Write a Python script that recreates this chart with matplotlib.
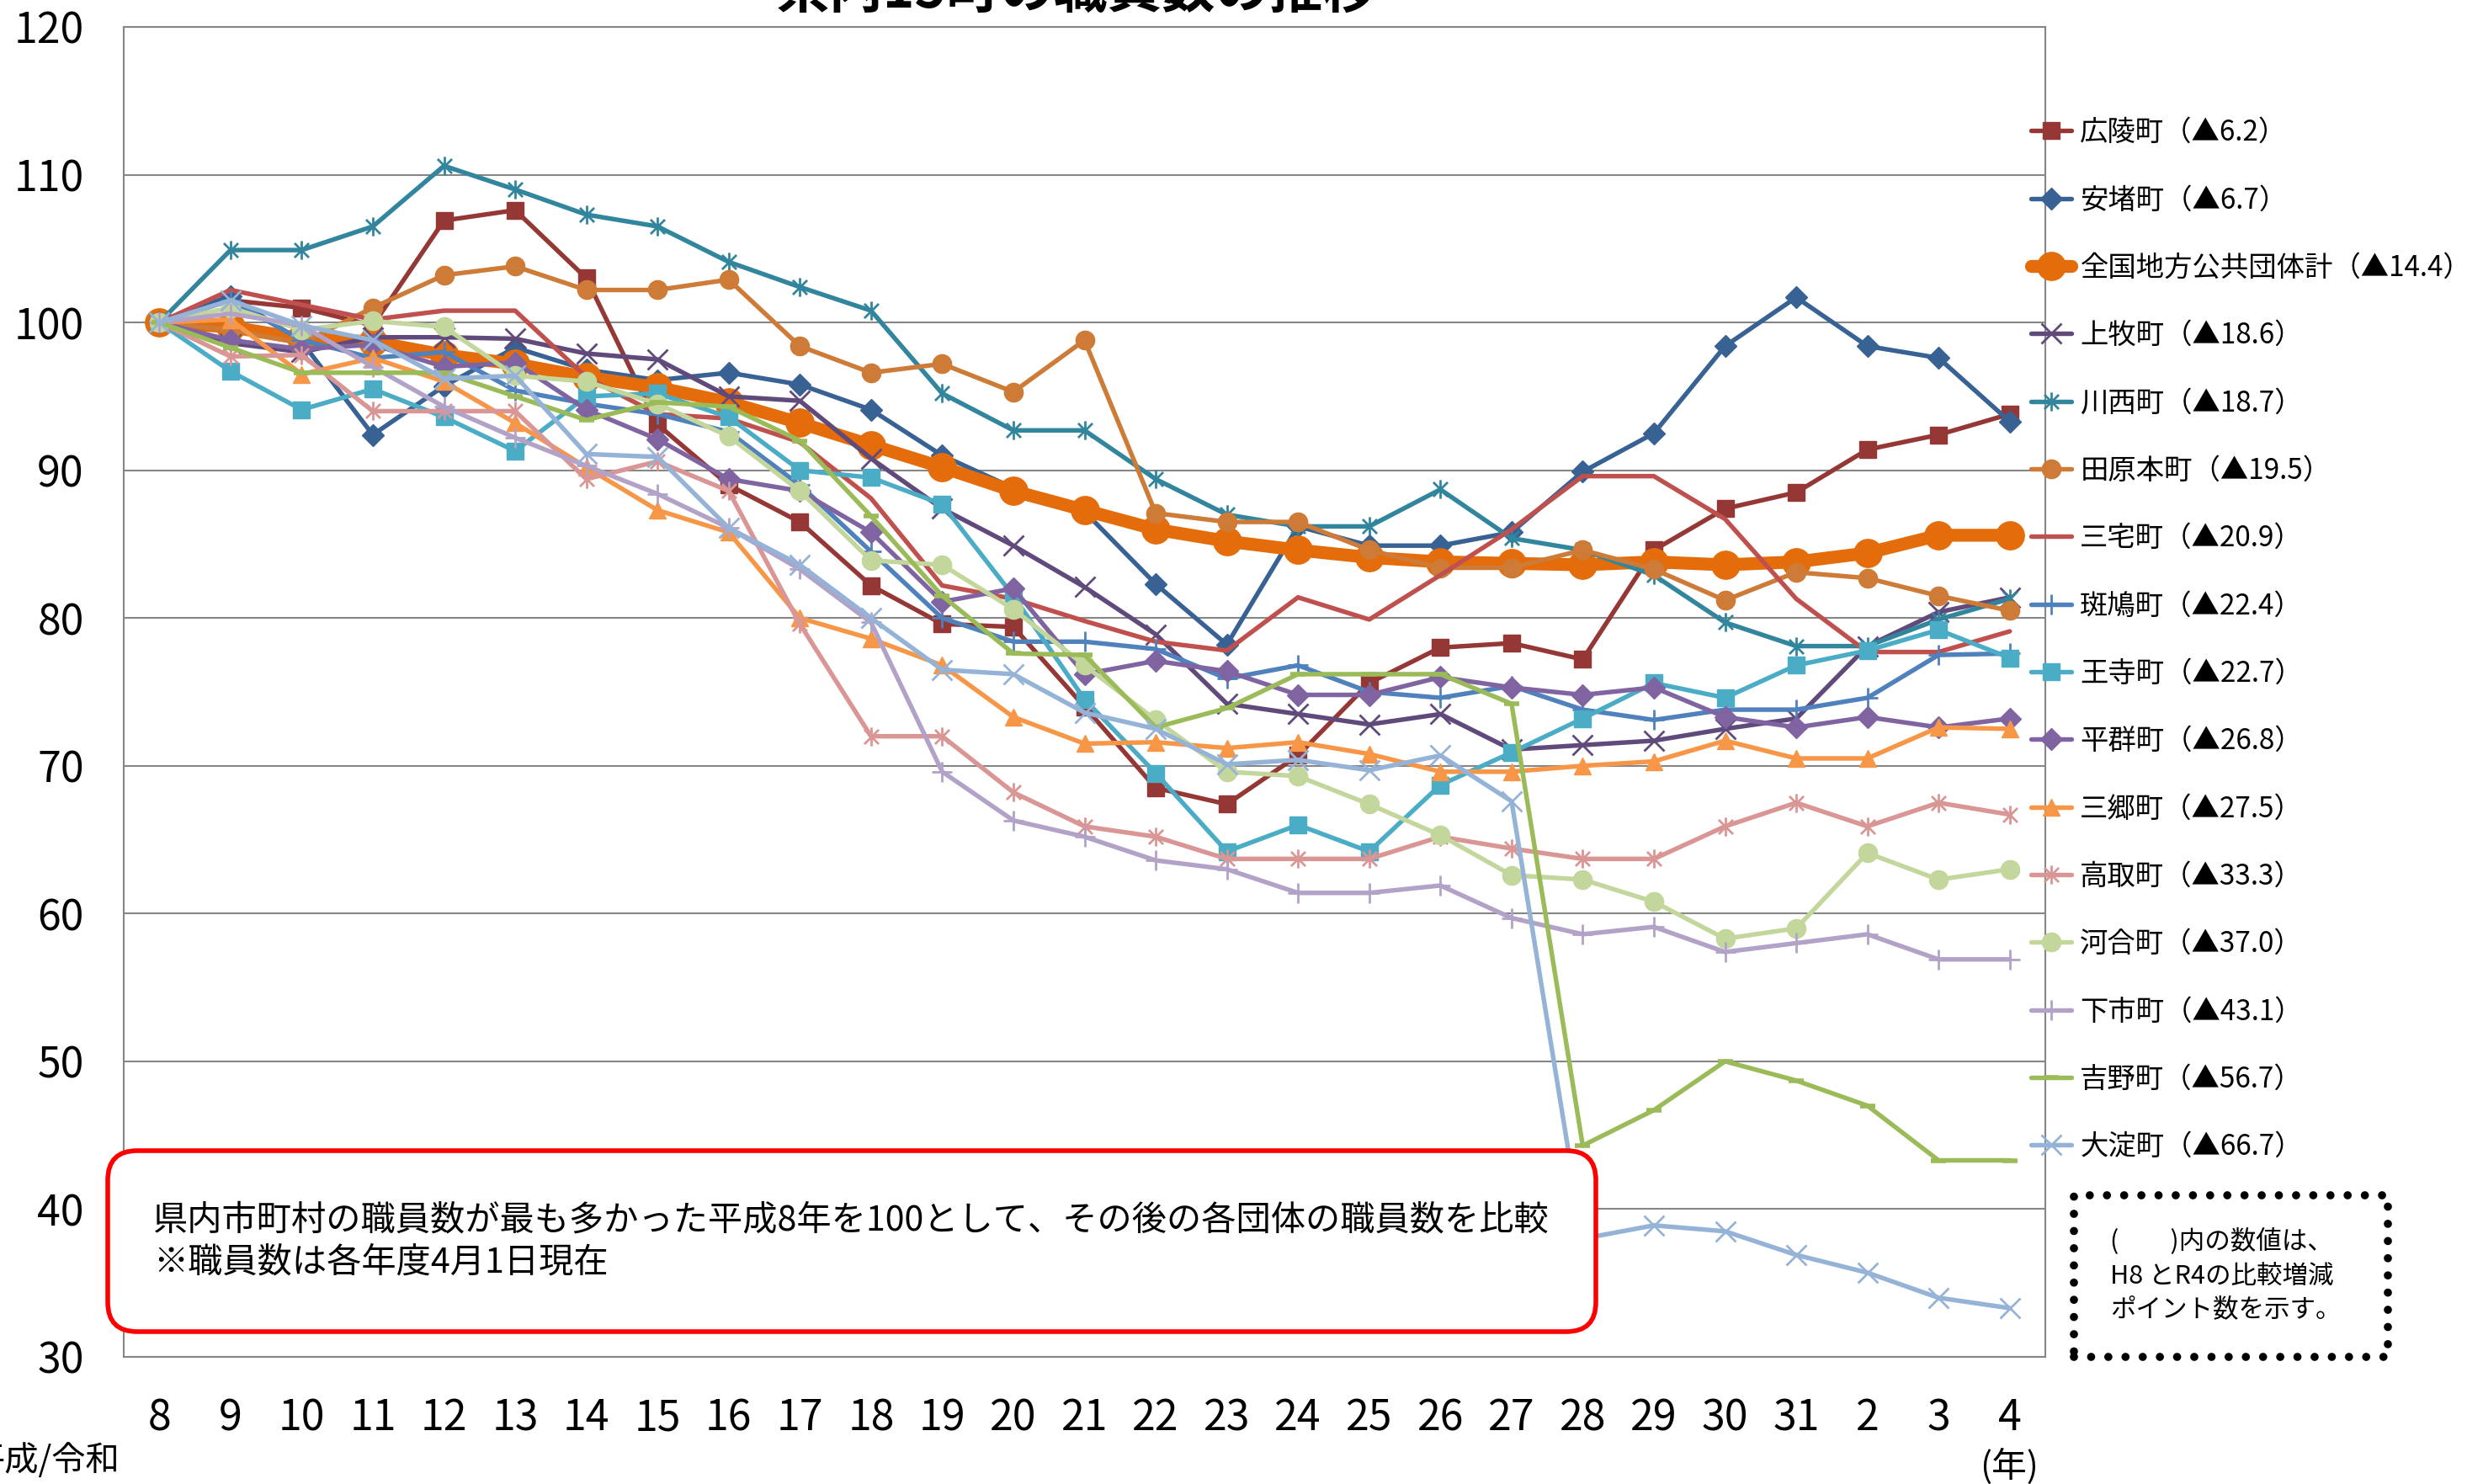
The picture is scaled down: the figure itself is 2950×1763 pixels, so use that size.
import matplotlib
matplotlib.use('Agg')
import matplotlib.pyplot as plt
from matplotlib.path import Path
from matplotlib.patches import FancyBboxPatch, Rectangle
from matplotlib.transforms import IdentityTransform
import numpy as np

plt.rcParams['font.family'] = ['Noto Sans CJK JP', 'DejaVu Sans']

# ---------------- data ----------------
years = ['8', '9', '10', '11', '12', '13', '14', '15', '16', '17', '18', '19', '20',
         '21', '22', '23', '24', '25', '26', '27', '28', '29', '30', '31', '2', '3', '4']

names = ['広陵町', '安堵町', '全国地方公共団体計', '上牧町', '川西町', '田原本町', '三宅町',
         '斑鳩町', '王寺町', '平群町', '三郷町', '高取町', '河合町', '下市町', '吉野町', '大淀町']
changes = ['6.2', '6.7', '14.4', '18.6', '18.7', '19.5', '20.9', '22.4', '22.7', '26.8',
           '27.5', '33.3', '37.0', '43.1', '56.7', '66.7']

koryo = [100, 101.5, 101.0, 99.8, 106.9, 107.6, 103.0, 93.1, 89.0, 86.5, 82.2, 79.6, 79.4,
         74.0, 68.5, 67.4, 70.7, 75.6, 78.0, 78.3, 77.2, 84.6, 87.4, 88.5, 91.4, 92.4, 93.8]
ando = [100, 101.8, 98.7, 92.4, 95.7, 98.3, 96.8, 96.1, 96.6, 95.8, 94.1, 91.0, 88.8,
        87.2, 82.3, 78.2, 86.2, 84.9, 84.9, 85.8, 89.9, 92.5, 98.4, 101.7, 98.4, 97.6, 93.3]
zenkoku = [100, 99.7, 98.9, 98.7, 97.8, 97.2, 96.3, 95.6, 94.6, 93.2, 91.7, 90.2, 88.6,
           87.3, 86.0, 85.2, 84.6, 84.1, 83.8, 83.7, 83.6, 83.8, 83.6, 83.8, 84.4, 85.6, 85.6]
kanmaki = [100, 98.6, 98.0, 99.0, 99.0, 98.9, 97.9, 97.5, 95.0, 94.7, 90.8, 87.4, 84.9,
           82.1, 78.9, 74.2, 73.5, 72.8, 73.5, 71.1, 71.4, 71.7, 72.5, 73.2, 78.1, 80.4, 81.4]
kawanishi = [100, 104.9, 104.9, 106.5, 110.6, 109.0, 107.3, 106.5, 104.1, 102.4, 100.8, 95.2, 92.7,
             92.7, 89.4, 87.0, 86.2, 86.2, 88.7, 85.4, 84.6, 82.9, 79.7, 78.1, 78.1, 79.9, 81.3]
tawaramoto = [100, 99.5, 98.6, 101.0, 103.2, 103.8, 102.2, 102.2, 102.9, 98.4, 96.6, 97.2, 95.3,
              98.8, 87.1, 86.5, 86.5, 84.6, 83.4, 83.4, 84.6, 83.3, 81.2, 83.1, 82.7, 81.5, 80.5]
miyake = [100, 102.2, 101.2, 100.2, 100.8, 100.8, 96.3, 93.8, 93.5, 91.9, 88.1, 82.2, 81.3,
          79.8, 78.4, 77.8, 81.4, 79.9, 82.9, 86.0, 89.6, 89.6, 86.7, 81.3, 77.7, 77.7, 79.1]
ikaruga = [100, 101.5, 98.8, 97.6, 98.0, 95.4, 94.5, 93.8, 92.6, 89.0, 84.5, 80.0, 78.4,
           78.4, 77.9, 75.9, 76.8, 75.0, 74.6, 75.4, 73.8, 73.1, 73.8, 73.8, 74.6, 77.5, 77.6]
oji = [100, 96.7, 94.1, 95.5, 93.6, 91.3, 95.0, 95.2, 93.6, 90.0, 89.5, 87.7, 81.5,
       74.5, 69.5, 64.2, 66.0, 64.2, 68.7, 70.9, 73.2, 75.6, 74.6, 76.8, 77.8, 79.2, 77.3]
heguri = [100, 98.8, 98.2, 98.5, 97.0, 97.3, 94.1, 92.1, 89.4, 88.6, 85.8, 81.1, 82.0,
          76.2, 77.1, 76.4, 74.8, 74.8, 76.0, 75.3, 74.8, 75.3, 73.3, 72.6, 73.3, 72.6, 73.2]
sango = [100, 100.2, 96.5, 97.6, 96.0, 93.2, 90.2, 87.3, 85.8, 80.0, 78.6, 76.8, 73.3,
         71.5, 71.6, 71.2, 71.6, 70.8, 69.6, 69.6, 70.0, 70.3, 71.7, 70.5, 70.5, 72.6, 72.5]
takatori = [100, 97.7, 97.8, 94.0, 94.0, 94.0, 89.4, 90.6, 88.6, 79.6, 72.0, 72.0, 68.2,
            65.9, 65.2, 63.7, 63.7, 63.7, 65.2, 64.4, 63.7, 63.7, 65.9, 67.5, 65.9, 67.5, 66.7]
kawai = [100, 101.0, 99.5, 100.1, 99.7, 96.4, 96.0, 94.5, 92.3, 88.6, 83.9, 83.6, 80.6,
         76.8, 73.1, 69.6, 69.3, 67.4, 65.3, 62.6, 62.3, 60.8, 58.3, 59.0, 64.1, 62.3, 63.0]
shimoichi = [100, 100.6, 99.8, 97.0, 94.3, 92.2, 90.3, 88.4, 86.1, 83.3, 79.7, 69.6, 66.3,
             65.2, 63.6, 63.0, 61.4, 61.4, 61.9, 59.7, 58.6, 59.1, 57.4, 58.0, 58.6, 56.9, 56.9]
yoshino = [100, 98.3, 96.6, 96.6, 96.6, 95.0, 93.4, 94.6, 94.3, 92.0, 86.9, 81.5, 77.6,
           77.5, 72.6, 73.9, 76.2, 76.2, 76.2, 74.2, 44.3, 46.7, 50.0, 48.7, 47.0, 43.3, 43.3]
oyodo = [100, 101.5, 99.8, 98.8, 96.2, 96.4, 91.1, 90.9, 86.1, 83.6, 80.0, 76.5, 76.2,
         73.6, 72.5, 70.1, 70.4, 69.7, 70.7, 67.6, 38.0, 38.9, 38.5, 36.9, 35.7, 34.0, 33.3]

series = [koryo, ando, zenkoku, kanmaki, kawanishi, tawaramoto, miyake, ikaruga, oji,
          heguri, sango, takatori, kawai, shimoichi, yoshino, oyodo]

# ---------------- styles ----------------
aster = Path([(-1, -1), (1, 1), (-1, 1), (1, -1), (0, -1.3), (0, 1.3)],
             [Path.MOVETO, Path.LINETO, Path.MOVETO, Path.LINETO, Path.MOVETO, Path.LINETO])
colors = ['#953735', '#386294', '#E46C0A', '#604A7B', '#31859C', '#CD7B37', '#C0504D',
          '#4F81BD', '#4BACC6', '#8064A2', '#F79646', '#D99694', '#C3D69B', '#B3A2C7',
          '#9BBB59', '#95B3D7']
markers = ['s', 'D', 'o', 'x', aster, 'o', 'None', '+', 's', 'D', '^', aster, 'o', '+', '_', 'x']
msizes = [15, 13, 24, 17, 16, 16, 0, 17, 15, 13, 15, 16, 16, 17, 13, 17]
mews = [1, 1, 1, 2, 2, 1, 1, 2, 1, 1, 1, 2, 1, 2, 4, 2]
lws = [3.9, 3.9, 11, 3.9, 3.9, 3.9, 3.9, 3.9, 3.9, 3.9, 3.9, 3.9, 3.9, 3.9, 3.9, 3.9]

W, H = 2950, 1763
fig = plt.figure(figsize=(W / 100, H / 100), dpi=100)
L, R, T, B = 147, 2430, 32, 1612
ax = fig.add_axes([L / W, 1 - B / H, (R - L) / W, (B - T) / H])

x = np.arange(len(years))
handles = []
for i, vals in enumerate(series):
    ln, = ax.plot(x, vals, color=colors[i], lw=lws[i], marker=markers[i], ms=msizes[i],
                  mfc=colors[i], mec=colors[i], mew=mews[i], zorder=3 + i,
                  solid_joinstyle='round', solid_capstyle='round')
    handles.append(ln)

ax.set_xlim(-0.5, len(years) - 0.5)
ax.set_ylim(30, 120)
ax.set_yticks(range(30, 121, 10))
ax.set_xticks(x)
ax.set_xticklabels(years)
ax.yaxis.grid(True, color='#868686', lw=1.5)
ax.set_axisbelow(True)
ax.tick_params(length=0, labelsize=36)
ax.tick_params(axis='y', pad=34)
ax.tick_params(axis='x', pad=34)
for sp in ax.spines.values():
    sp.set_color('#868686')
    sp.set_linewidth(1.5)

labels = [f'{n}（▲{c}）' for n, c in zip(names, changes)]
fig.legend(handles, labels, loc='upper left', bbox_to_anchor=(2413 / W, 1 - 140 / H),
           frameon=False, borderpad=0, borderaxespad=0, handlelength=1.45,
           handletextpad=0.3, labelspacing=1.36, prop={'size': 24})

# title (partly cut off at the top, as in the reference)
fig.text(1279 / W, 1 - 9 / H, '県内15町の職員数の推移', ha='center', va='baseline',
         fontsize=46, fontweight='bold')

fig.text(143 / W, 1 - 1735 / H, '平成/令和', ha='right', va='center', fontsize=29)
fig.text(2387 / W, 1 - 1742 / H, '(年)', ha='center', va='center', fontsize=30)

# red note box
box = FancyBboxPatch((128, H - 1582), 1768, 215, boxstyle='round,pad=0,rounding_size=35',
                     transform=IdentityTransform(), fc='white', ec='#FF0000', lw=4, zorder=10)
fig.add_artist(box)
fig.text(182 / W, 1 - 1450 / H,
         '県内市町村の職員数が最も多かった平成8年を100として、その後の各団体の職員数を比較',
         ha='left', va='center', fontsize=29.7, zorder=11)
fig.text(182 / W, 1 - 1500 / H, '※職員数は各年度4月1日現在', ha='left', va='center',
         fontsize=29.7, zorder=11)

# dotted note box
dbox = Rectangle((2464, H - 1612), 373, 192, transform=IdentityTransform(), fill=False,
                 ec='black', lw=7, linestyle=(0, (0.001, 2.1)), capstyle='round', zorder=10)
fig.add_artist(dbox)
for txt, yy in [('(\u3000\u3000)内の数値は、', 1475), ('H8 とR4の比較増減', 1516),
                ('ポイント数を示す。', 1556)]:
    fig.text(2507 / W, 1 - yy / H, txt, ha='left', va='center', fontsize=22, zorder=11)

fig.savefig('out.png', dpi=100)
